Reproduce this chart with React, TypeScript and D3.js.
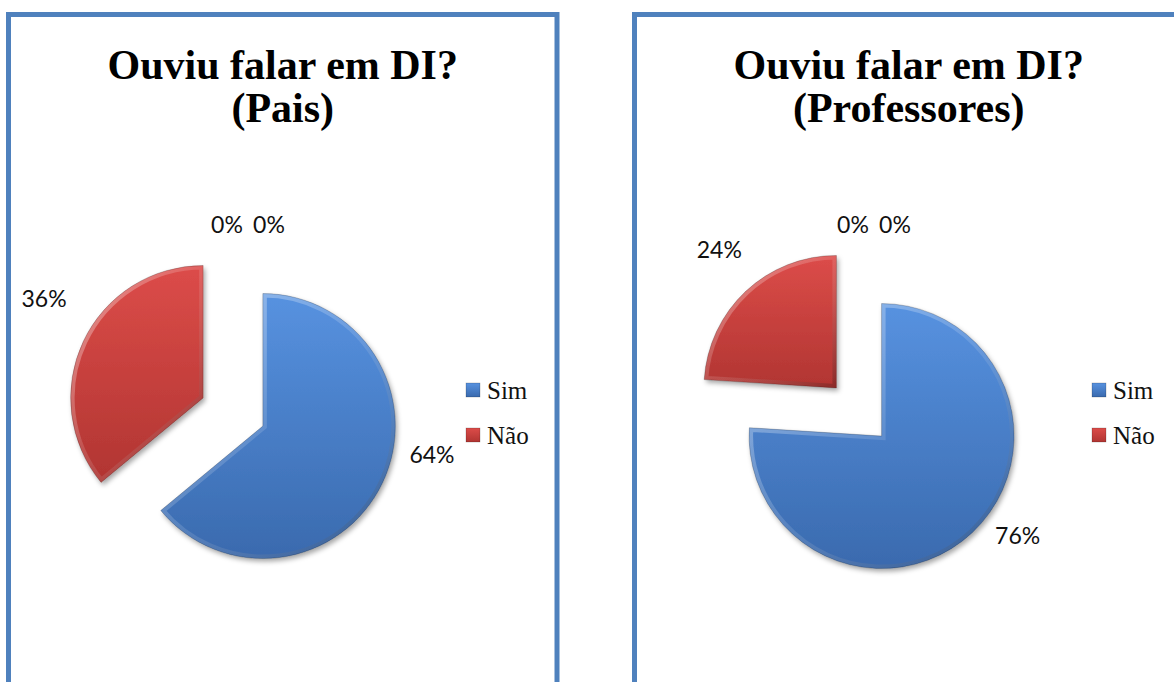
import * as d3 from "d3";

// data
const categories = ["Sim", "Não", "", ""];
const paisValues = [64, 36, 0, 0];
const professoresValues = [76, 24, 0, 0];
const titleLine = "Ouviu falar em DI?";
const subtitles = ["(Pais)", "(Professores)"];

const BORDER = "#4F81BD";
const sliceColors = [
  ["#5792E0", "#3A6AAE"],
  ["#DC4C49", "#B13532"],
];

const WIDTH = 1174;
const HEIGHT = 682;
const PANEL_W = 548.5;
const PANEL_X = [8.5, 634.5];
const PANEL_Y = 14.5;
const R = 132.5;
const EXPLODE = 33;
const CX = 224.5;
const CY = 397.5;
const LABEL_R = R + EXPLODE + 40;

// excel "best fit" label nudges [dx, dy], per panel and slice
const labelNudge = [
  [[13, -45], [-3, -26], [-6, 18], [36, 18]],
  [[18, -26], [1, -12], [-6, 18], [36, 18]],
];

const polar = (a: number, r: number): [number, number] => [Math.sin(a) * r, -Math.cos(a) * r];

function PiePanel({ idx, values }: { idx: number; values: number[] }) {
  const x0 = PANEL_X[idx];
  const pie = d3.pie<number>().sort(null).value((d) => d);
  const arcs = pie(values);
  const arc = d3.arc<d3.PieArcDatum<number>>().innerRadius(0).outerRadius(R);
  const total = d3.sum(values);
  const fmt = (v: number) => `${Math.round((v / total) * 100)}%`;
  const legend = categories.filter((c) => c !== "");

  return (
    <g transform={`translate(${x0},${PANEL_Y})`}>
      <rect x={0} y={0} width={PANEL_W} height={HEIGHT + 40} fill="white" stroke={BORDER} strokeWidth={5} />
      <text
        x={PANEL_W / 2}
        y={64.5}
        textAnchor="middle"
        fontFamily="'Liberation Serif', 'Times New Roman', serif"
        fontWeight="bold"
        fontSize={42}
      >
        {titleLine}
      </text>
      <text
        x={PANEL_W / 2}
        y={107.5}
        textAnchor="middle"
        fontFamily="'Liberation Serif', 'Times New Roman', serif"
        fontWeight="bold"
        fontSize={42}
      >
        {subtitles[idx]}
      </text>

      <g transform={`translate(${CX},${CY})`}>
        {arcs.map((a, i) => {
          if (a.value === 0) return null;
          const mid = (a.startAngle + a.endAngle) / 2;
          const [ox, oy] = polar(mid, EXPLODE);
          const d = arc(a) || "";
          const cid = `clip-${idx}-${i}`;
          return (
            <g key={i} transform={`translate(${ox},${oy})`}>
              <clipPath id={cid}>
                <path d={d} />
              </clipPath>
              <path d={d} fill={`url(#grad-${i})`} filter="url(#shadow)" />
              <path d={d} fill="none" stroke="url(#bevel)" strokeWidth={8} clipPath={`url(#${cid})`} />
              <path d={d} fill="none" stroke="rgba(0,0,0,0.25)" strokeWidth={0.8} />
            </g>
          );
        })}
        {arcs.map((a, i) => {
          const mid = (a.startAngle + a.endAngle) / 2;
          const [bx, by] = polar(mid, LABEL_R);
          const [nx, ny] = labelNudge[idx][i];
          return (
            <text
              key={`l${i}`}
              x={bx + nx}
              y={by + ny}
              dy="0.36em"
              textAnchor="middle"
              fontFamily="Lato, 'Open Sans', sans-serif"
              fontSize={23}
              fill="#111"
            >
              {fmt(a.value)}
            </text>
          );
        })}
      </g>

      {legend.map((c, i) => (
        <g key={c} transform={`translate(457.5,${368.5 + i * 45})`}>
          <rect x={0} y={0} width={14} height={14} fill={`url(#grad-${i})`} stroke="rgba(0,0,0,0.3)" strokeWidth={0.6} />
          <text
            x={21}
            y={15.5}
            fontFamily="'Liberation Serif', 'Times New Roman', serif"
            fontSize={25}
            fill="#111"
          >
            {c}
          </text>
        </g>
      ))}
    </g>
  );
}

export default function App() {
  return (
    <div style={{ position: "fixed", left: 0, top: 0 }}>
      <svg width={WIDTH} height={HEIGHT} style={{ display: "block", background: "white" }}>
        <defs>
          {sliceColors.map((c, i) => (
            <linearGradient key={i} id={`grad-${i}`} x1="0" y1="0" x2="0" y2="1">
              <stop offset="0%" stopColor={c[0]} />
              <stop offset="100%" stopColor={c[1]} />
            </linearGradient>
          ))}
          <linearGradient id="bevel" x1="0" y1="0" x2="1" y2="1">
            <stop offset="0%" stopColor="rgba(255,255,255,0.45)" />
            <stop offset="50%" stopColor="rgba(255,255,255,0.12)" />
            <stop offset="100%" stopColor="rgba(0,0,0,0.22)" />
          </linearGradient>
          <filter id="shadow" x="-20%" y="-20%" width="140%" height="140%">
            <feDropShadow dx={2} dy={3} stdDeviation={2.5} floodColor="#000" floodOpacity={0.35} />
          </filter>
        </defs>
        <PiePanel idx={0} values={paisValues} />
        <PiePanel idx={1} values={professoresValues} />
      </svg>
    </div>
  );
}
